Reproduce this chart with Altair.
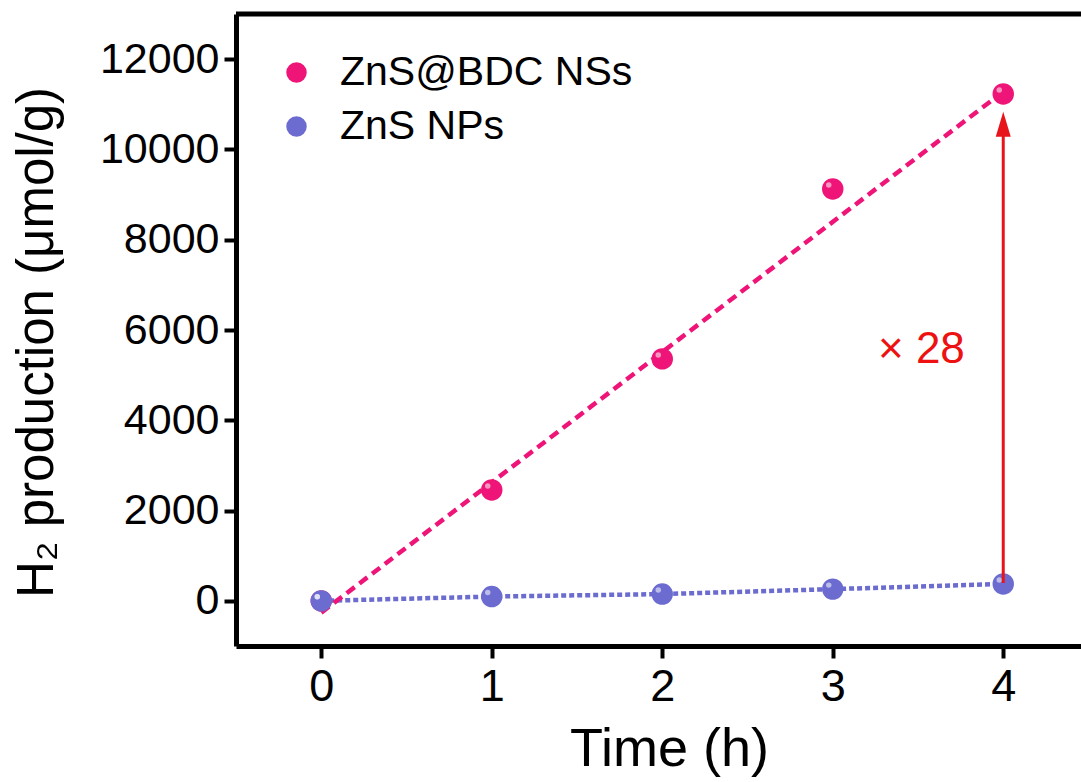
import altair as alt
import pandas as pd

# ---- data ----
time_h = [0, 1, 2, 3, 4]
znsbdc = [0, 2457, 5360, 9125, 11230]
zns = [0, 95, 150, 260, 375]
series_names = ["ZnS@BDC NSs", "ZnS NPs"]
series_colors = ["#EE1478", "#6B6BD0"]
fit_x = [0, 4]
fit_y = [-260, 11280]
arrow_x = [4]
arrow_y0 = [397]
arrow_y1 = [10300]
arrow_head_y = [10560]
ratio_text = ["× 28"]
ratio_x = [3.52]
ratio_y = [5560]
x_ticks = [0, 1, 2, 3, 4]
y_ticks = [0, 2000, 4000, 6000, 8000, 10000, 12000]

FONT = "Liberation Sans"
W, H = 845, 632

pts = pd.DataFrame({
    "t": time_h + time_h,
    "v": znsbdc + zns,
    "s": [series_names[0]] * len(time_h) + [series_names[1]] * len(time_h),
})
blue_df = pd.DataFrame({"t": time_h, "v": zns})
fit_df = pd.DataFrame({"t": fit_x, "v": fit_y})
arrow_df = pd.DataFrame({"t": arrow_x, "v": arrow_y0, "v2": arrow_y1, "h": arrow_head_y})
txt_df = pd.DataFrame({"t": ratio_x, "v": ratio_y, "label": ratio_text})

xs = alt.Scale(domain=[-0.5, 4.456], nice=False, zero=False)
ys = alt.Scale(domain=[-1000, 13000], nice=False, zero=False)

x_axis = alt.Axis(
    values=x_ticks, title="Time (h)", grid=False, format="d",
    labelFontSize=45, titleFontSize=54, titleFontWeight="normal",
    labelPadding=6, tickSize=12, tickWidth=4, domainWidth=5,
    titleX=433, titleY=119, titleBaseline="alphabetic",
)
y_axis = alt.Axis(
    values=y_ticks, title="H₂ production (μmol/g)", grid=False, format="d",
    labelFontSize=43, titleFontSize=51, titleFontWeight="normal",
    labelPadding=5, tickSize=12, tickWidth=4, domainWidth=5,
    titleAngle=270, titleX=-184, titleY=328, titleBaseline="alphabetic",
    titleAlign="center",
)


def X(field="t"):
    return alt.X(f"{field}:Q", scale=xs, axis=x_axis, title="Time (h)")


def Y(field="v"):
    return alt.Y(f"{field}:Q", scale=ys, axis=y_axis, title="H₂ production (μmol/g)")


blue_line = alt.Chart(blue_df).mark_line(
    color=series_colors[1], strokeWidth=4.5, strokeDash=[5, 3]
).encode(x=X(), y=Y())

fit_line = alt.Chart(fit_df).mark_line(
    color=series_colors[0], strokeWidth=4.5, strokeDash=[10, 6]
).encode(x=X(), y=Y())

points = alt.Chart(pts).mark_circle(size=460, opacity=1).encode(
    x=X(), y=Y(),
    color=alt.Color(
        "s:N",
        scale=alt.Scale(domain=series_names, range=series_colors),
        legend=alt.Legend(
            title=None, orient="none", legendX=40, legendY=38,
            labelFontSize=41, labelFont=FONT, labelColor="black", labelLimit=600,
            symbolSize=420, symbolType="circle", symbolStrokeWidth=0,
            symbolOpacity=1, rowPadding=12, labelOffset=23, padding=0,
        ),
    ),
)

highlights = alt.Chart(pts).mark_circle(
    size=30, color="white", opacity=0.55, xOffset=-4, yOffset=-4
).encode(x=X(), y=Y())

arrow = alt.Chart(arrow_df).mark_rule(color="#E8141B", strokeWidth=3).encode(
    x=X(), y=Y(), y2="v2:Q",
)

arrow_head = alt.Chart(arrow_df).mark_point(
    shape="M0,-1L0.6,1L-0.6,1Z", size=625, filled=True, color="#E8141B", opacity=1
).encode(x=X(), y=Y("h"))

ratio = alt.Chart(txt_df).mark_text(
    font=FONT, fontSize=44, color="#EE1111", align="center", baseline="middle"
).encode(x=X(), y=Y(), text="label:N")

top_border = alt.Chart(pd.DataFrame({"a": [0]})).mark_rule(
    color="black", strokeWidth=5
).encode(x=alt.value(0), x2=alt.value(W), y=alt.value(0))

chart = alt.layer(
    blue_line, fit_line, points, highlights, arrow, arrow_head, ratio, top_border
).properties(
    width=W, height=H,
    padding={"left": 236, "top": 14, "right": 0, "bottom": 136},
    autosize="none",
    background="white",
).configure(font=FONT).configure_view(
    strokeWidth=0
).configure_axis(
    labelFont=FONT, titleFont=FONT, labelColor="black", titleColor="black",
    domainColor="black", tickColor="black",
)

chart.save("out.html", embed_options={"renderer": "svg", "actions": False})
